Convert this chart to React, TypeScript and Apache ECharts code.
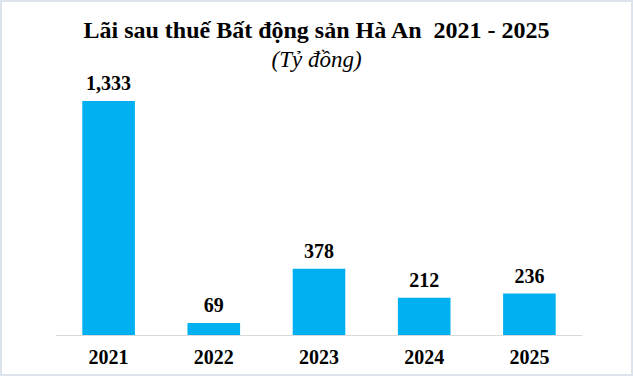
import React, { useEffect, useRef } from "react";
import * as echarts from "echarts";

const categories = ["2021", "2022", "2023", "2024", "2025"];
const profit = [1333, 69, 378, 212, 236];
const titleText = "Lãi sau thuế Bất động sản Hà An  2021 - 2025";
const subtitleText = "(Tỷ đồng)";

export default function App() {
  const ref = useRef<HTMLDivElement>(null);
  useEffect(() => {
    const chart = echarts.init(ref.current!, null, { renderer: "svg" });
    const serif = "'Liberation Serif', 'Times New Roman', serif";
    chart.setOption({
      animation: false,
      backgroundColor: "#ffffff",
      title: {
        text: titleText,
        subtext: subtitleText,
        left: "center",
        top: 11,
        itemGap: 6,
        textStyle: { fontFamily: serif, fontSize: 24, fontWeight: "bold", color: "#000" },
        subtextStyle: { fontFamily: serif, fontSize: 23, fontStyle: "italic", color: "#000" },
      },
      grid: { left: 54, right: 49, top: 99, bottom: 39, containLabel: false },
      xAxis: {
        type: "category",
        data: categories,
        axisLine: { show: true, lineStyle: { color: "#d9d9d9", width: 1 } },
        axisTick: { show: false },
        axisLabel: { fontFamily: serif, fontSize: 20, fontWeight: "bold", color: "#000", margin: 12 },
      },
      yAxis: {
        type: "value",
        min: 0,
        max: 1333,
        show: false,
        splitLine: { show: false },
      },
      series: [
        {
          type: "bar",
          data: profit,
          barWidth: "50%",
          itemStyle: { color: "#00B0F0" },
          label: {
            show: true,
            position: "top",
            distance: 8,
            fontFamily: serif,
            fontSize: 20,
            fontWeight: "bold",
            color: "#000",
            formatter: (p: any) => Number(p.value).toLocaleString("en-US"),
          },
        },
      ],
    });
    return () => chart.dispose();
  }, []);
  return (
    <div
      ref={ref}
      style={{
        position: "absolute",
        left: 0,
        top: 0,
        width: 633,
        height: 376,
        boxSizing: "border-box",
        border: "2px solid #dde3ea",
      }}
    />
  );
}
